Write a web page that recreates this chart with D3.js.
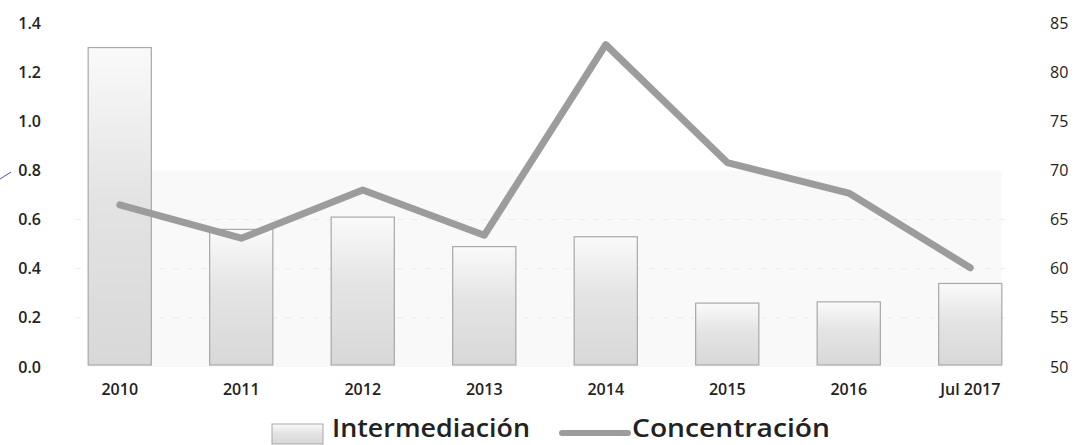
<!DOCTYPE html>
<html lang="es">
<head>
  <meta charset="UTF-8">
  <title>Intermediación y Concentración</title>
  <style>
    body { margin: 0; background: #fff; }
    svg { display: block; }
    .tick text { font-family: 'Open Sans', sans-serif; fill: #222; }
  </style>
  <script src="https://d3js.org/d3.v7.min.js"></script>
</head>
<body>
  <svg></svg>
  <script>
    const categories = ["2010", "2011", "2012", "2013", "2014", "2015", "2016", "Jul 2017"];
    const intermediacion = [1.30, 0.56, 0.61, 0.49, 0.53, 0.26, 0.265, 0.34];
    const concentracion = [66.5, 63.1, 68.0, 63.4, 82.8, 70.8, 67.7, 60.1];
    const leftTicks = [0, 0.2, 0.4, 0.6, 0.8, 1.0, 1.2, 1.4];
    const rightTicks = [50, 55, 60, 65, 70, 75, 80, 85];

    const width = 1077, height = 445;
    const svg = d3.select("svg").attr("width", width).attr("height", height);

    const x = d3.scaleBand().domain(categories).range([59, 1031]).paddingInner(0.48).paddingOuter(0.24);
    const yL = d3.scaleLinear().domain([0, 1.4]).range([367, 23]);
    const yR = d3.scaleLinear().domain([50, 85]).range([367, 23]);

    const defs = svg.append("defs");
    const grad = defs.append("linearGradient").attr("id", "barGrad")
      .attr("x1", 0).attr("y1", 0).attr("x2", 0).attr("y2", 1);
    grad.append("stop").attr("offset", "0%").attr("stop-color", "#fafafa");
    grad.append("stop").attr("offset", "45%").attr("stop-color", "#e4e4e4");
    grad.append("stop").attr("offset", "100%").attr("stop-color", "#d8d8d8");

    // faint background panel
    svg.append("rect")
      .attr("x", x(categories[0])).attr("y", yL(0.8))
      .attr("width", x(categories[7]) + x.bandwidth() - x(categories[0]))
      .attr("height", yL(0) - yL(0.8))
      .attr("fill", "#f9f9f9");

    // faint dashed gridlines
    svg.append("g").selectAll("line")
      .data([0.2, 0.4, 0.6])
      .join("line")
      .attr("x1", 75).attr("x2", 1010)
      .attr("y1", d => yL(d)).attr("y2", d => yL(d))
      .attr("stroke", "#ececec").attr("stroke-dasharray", "6,8");

    // bars
    svg.append("g").selectAll("rect")
      .data(intermediacion)
      .join("rect")
      .attr("x", (d, i) => x(categories[i]))
      .attr("y", d => yL(d))
      .attr("width", x.bandwidth())
      .attr("height", d => yL(0) - yL(d) - 2)
      .attr("fill", "url(#barGrad)")
      .attr("stroke", "#a8a8a8")
      .attr("stroke-width", 1.2);

    // line
    const line = d3.line()
      .x((d, i) => x(categories[i]) + x.bandwidth() / 2)
      .y(d => yR(d));
    svg.append("path")
      .datum(concentracion)
      .attr("d", line)
      .attr("fill", "none")
      .attr("stroke", "#9c9c9c")
      .attr("stroke-width", 7)
      .attr("stroke-linejoin", "round")
      .attr("stroke-linecap", "round");

    // axes
    const axL = svg.append("g").attr("transform", "translate(41,0)")
      .call(d3.axisLeft(yL).tickValues(leftTicks).tickFormat(d3.format(".1f")).tickSize(0).tickPadding(0));
    const axR = svg.append("g").attr("transform", "translate(1050,0)")
      .call(d3.axisRight(yR).tickValues(rightTicks).tickSize(0).tickPadding(0));
    const axB = svg.append("g").attr("transform", "translate(0,381)")
      .call(d3.axisBottom(x).tickSize(0).tickPadding(3));
    [axL, axR, axB].forEach(a => a.select(".domain").remove());
    axL.selectAll("text").style("font-size", "16px").style("font-weight", 600);
    axR.selectAll("text").style("font-size", "16px").style("font-weight", 400);
    axB.selectAll("text").style("font-size", "16px").style("font-weight", 600);

    // pen mark at left
    svg.append("path")
      .attr("d", "M0,179 L11,172")
      .attr("stroke", "#4a56b0").attr("stroke-width", 1).attr("fill", "none");

    // legend
    const lg = svg.append("g");
    lg.append("rect").attr("x", 272).attr("y", 424).attr("width", 51).attr("height", 20)
      .attr("fill", "url(#barGrad)").attr("stroke", "#a8a8a8");
    lg.append("text").attr("x", 332).attr("y", 437)
      .attr("textLength", 198).attr("lengthAdjust", "spacingAndGlyphs")
      .style("font-family", "'Open Sans', sans-serif").style("font-size", "25px").style("font-weight", 600)
      .attr("fill", "#222").text("Intermediación");
    lg.append("line").attr("x1", 562).attr("x2", 628).attr("y1", 433).attr("y2", 433)
      .attr("stroke", "#9c9c9c").attr("stroke-width", 6).attr("stroke-linecap", "round");
    lg.append("text").attr("x", 632).attr("y", 437)
      .attr("textLength", 198).attr("lengthAdjust", "spacingAndGlyphs")
      .style("font-family", "'Open Sans', sans-serif").style("font-size", "25px").style("font-weight", 600)
      .attr("fill", "#222").text("Concentración");
  </script>
</body>
</html>
